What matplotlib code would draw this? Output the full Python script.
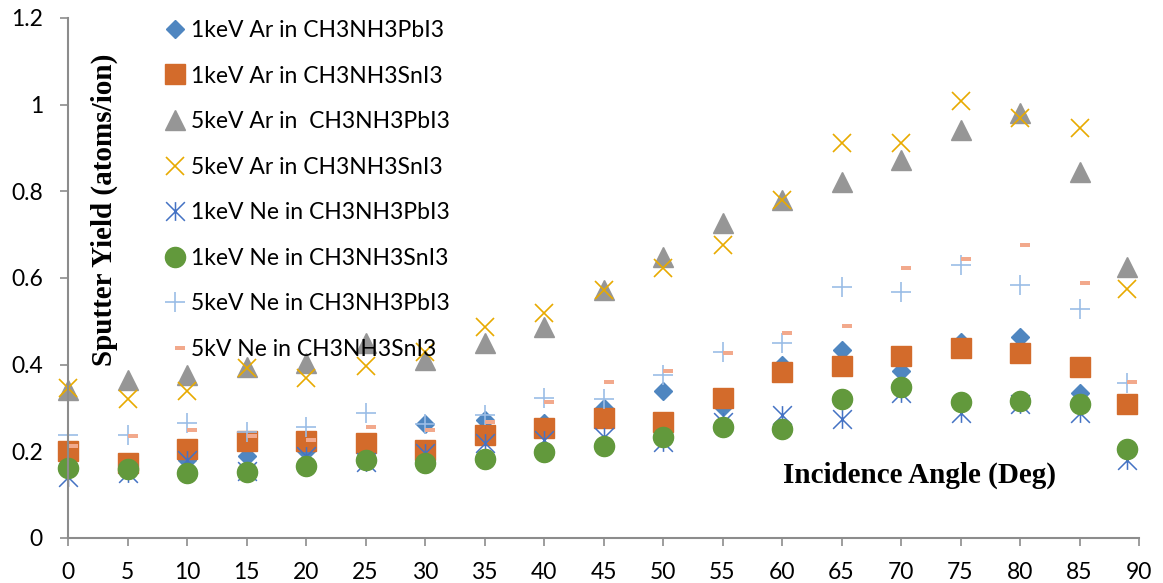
import matplotlib
matplotlib.use('Agg')
import matplotlib.pyplot as plt
from matplotlib.path import Path

angles = [0, 5, 10, 15, 20, 25, 30, 35, 40, 45, 50, 55, 60, 65, 70, 75, 80, 85, 89]

ar1_pb = [0.20, 0.175, 0.18, 0.19, 0.20, 0.21, 0.263, 0.272, 0.265, 0.30, 0.34,
          0.303, 0.40, 0.434, 0.386, 0.452, 0.464, 0.334, 0.31]
ar1_sn = [0.20, 0.174, 0.205, 0.224, 0.224, 0.22, 0.203, 0.238, 0.254, 0.277,
          0.268, 0.323, 0.383, 0.397, 0.42, 0.439, 0.427, 0.395, 0.31]
ar5_pb = [0.342, 0.365, 0.376, 0.395, 0.405, 0.45, 0.41, 0.45, 0.487, 0.573,
          0.649, 0.727, 0.78, 0.822, 0.873, 0.942, 0.981, 0.845, 0.626]
ar5_sn = [0.346, 0.32, 0.34, 0.392, 0.37, 0.397, 0.43, 0.488, 0.52, 0.573,
          0.624, 0.677, 0.78, 0.912, 0.912, 1.009, 0.97, 0.947, 0.575]
ne1_pb = [0.14, 0.15, 0.18, 0.155, 0.19, 0.175, 0.196, 0.22, 0.226, 0.233,
          0.222, 0.268, 0.284, 0.275, 0.335, 0.288, 0.31, 0.288, 0.18]
ne1_sn = [0.162, 0.16, 0.15, 0.152, 0.166, 0.18, 0.173, 0.182, 0.199, 0.213,
          0.234, 0.257, 0.252, 0.321, 0.349, 0.314, 0.316, 0.31, 0.205]
ne5_pb = [0.238, 0.238, 0.265, 0.245, 0.257, 0.288, 0.263, 0.284, 0.323, 0.321,
          0.376, 0.43, 0.45, 0.58, 0.568, 0.63, 0.584, 0.528, 0.357]
ne5_sn = [0.212, 0.236, 0.249, 0.235, 0.226, 0.257, 0.25, 0.267, 0.313, 0.36,
          0.386, 0.427, 0.473, 0.49, 0.623, 0.644, 0.677, 0.589, 0.36]

labels = ['1keV Ar in CH3NH3PbI3', '1keV Ar in CH3NH3SnI3',
          '5keV Ar in  CH3NH3PbI3', '5keV Ar in CH3NH3SnI3',
          '1keV Ne in CH3NH3PbI3', '1keV Ne in CH3NH3SnI3',
          '5keV Ne in CH3NH3PbI3', '5kV Ne in CH3NH3SnI3']
xticks = list(range(0, 95, 5))
yticks = [0, 0.2, 0.4, 0.6, 0.8, 1.0, 1.2]
ytick_labels = ['0', '0.2', '0.4', '0.6', '0.8', '1', '1.2']

# excel style markers
star = Path([(0, -1), (0, 1), (-1, -1), (1, 1), (-1, 1), (1, -1)],
            [Path.MOVETO, Path.LINETO, Path.MOVETO, Path.LINETO,
             Path.MOVETO, Path.LINETO])
dash = Path([(0, -0.2), (1, -0.2), (1, 0.2), (0, 0.2), (0, -0.2)],
            [Path.MOVETO, Path.LINETO, Path.LINETO, Path.LINETO,
             Path.CLOSEPOLY])

styles = [
    dict(marker='D', ms=9.6, mfc='#4f86c0', mec='#4f86c0'),
    dict(marker='s', ms=14.5, mfc='#d36b2b', mec='#d36b2b'),
    dict(marker='^', ms=14.5, mfc='#969696', mec='#969696'),
    dict(marker='x', ms=13.5, mfc='none', mec='#e8aa00', mew=1.2),
    dict(marker=star, ms=13.5, mfc='none', mec='#4472c4', mew=1.1),
    dict(marker='o', ms=14.5, mfc='#62993c', mec='#62993c'),
    dict(marker='+', ms=14.5, mfc='none', mec='#9bbde6', mew=1.2),
    dict(marker=dash, ms=14.5, mfc='#f2a98c', mec='#f2a98c', mew=0),
]
series = [ar1_pb, ar1_sn, ar5_pb, ar5_sn, ne1_pb, ne1_sn, ne5_pb, ne5_sn]

plt.rcParams['font.family'] = ['Lato', 'DejaVu Sans']

fig = plt.figure(figsize=(11.63, 5.83), dpi=100)
ax = fig.add_axes([68 / 1163, 1 - 538 / 583, (1139 - 68) / 1163, 520 / 583])

for y, st, lab in zip(series, styles, labels):
    ax.plot(angles, y, linestyle='none', label=lab, **st)

ax.set_xlim(0, 90)
ax.set_ylim(0, 1.2)
ax.set_xticks(xticks)
ax.set_yticks(yticks)
ax.set_yticklabels(ytick_labels)
for s in ['top', 'right']:
    ax.spines[s].set_visible(False)
for s in ['left', 'bottom']:
    ax.spines[s].set_color('#8c8c8c')
    ax.spines[s].set_linewidth(1.5)
    ax.spines[s].set_clip_on(False)
ax.tick_params(axis='both', colors='#8c8c8c', labelcolor='black',
               labelsize=16.5, length=6, width=1.2)
ax.tick_params(axis='y', pad=12)
ax.tick_params(axis='x', pad=11)
for line in ax.get_lines():
    line.set_clip_on(False)

fig.text(104 / 1163, 1 - 210 / 583, 'Sputter Yield (atoms/ion)',
         rotation=90, ha='center', va='center', fontsize=21,
         fontweight='bold', family='Liberation Serif')
fig.text(920 / 1163, 1 - 475 / 583, 'Incidence Angle (Deg)',
         ha='center', va='center', fontsize=21, fontweight='bold',
         family='Liberation Serif')

ax.legend(loc='upper left', bbox_to_anchor=(166 / 1163, 1 - 20 / 583),
          bbox_transform=fig.transFigure, frameon=False, fontsize=16.5,
          numpoints=1, handlelength=0.8, handletextpad=0.3,
          labelspacing=1.07, borderpad=0, borderaxespad=0)

fig.savefig('out.png', dpi=100)
